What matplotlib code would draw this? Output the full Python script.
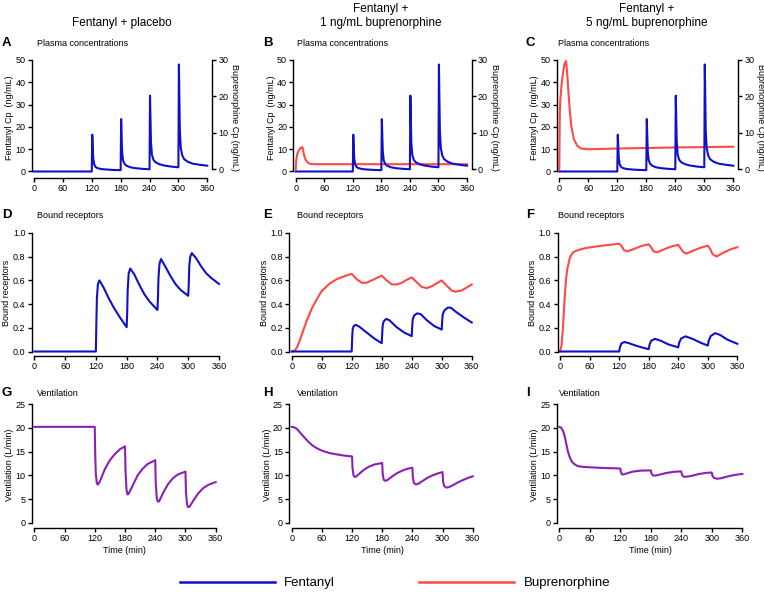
import matplotlib.pyplot as plt

plt.rcParams['font.family'] = ['Liberation Sans', 'DejaVu Sans']

BLUE = '#1010c8'
RED = '#ff4848'
PURPLE = '#8a20b4'

W, H = 764, 593

# ---- data ----
# fentanyl plasma concentration (ng/mL), same in A, B, C
t_fent_cp = [0, 120, 121, 123, 125, 128, 132, 140, 150, 165, 180,
             181, 183, 185, 188, 192, 200, 210, 225, 240,
             241, 243, 245, 248, 252, 260, 270, 285, 300,
             301, 303, 305, 308, 312, 320, 330, 345, 360]
fent_cp = [0, 0, 16.5, 6, 3.2, 2.0, 1.5, 1.1, 0.9, 0.7, 0.6,
           23.5, 9, 5, 3.5, 2.6, 1.9, 1.5, 1.2, 1.0,
           34, 13, 7.5, 5.3, 4.2, 3.3, 2.7, 2.2, 1.9,
           48, 18, 10.5, 7.2, 5.5, 4.3, 3.5, 3.0, 2.6]

# buprenorphine plasma concentration (ng/mL, right axis)
t_bup_cp_1 = [0, 1, 3, 5, 8, 11, 14, 16, 18, 21, 25, 30, 40, 60, 120, 240, 360]
bup_cp_1 = [0, 2.3, 4.0, 4.8, 5.5, 5.9, 6.1, 5.0, 3.6, 2.6, 1.9, 1.5, 1.4, 1.4, 1.4, 1.4, 1.4]

t_bup_cp_5 = [0, 1, 2, 5, 8, 11, 14, 16, 19, 22, 25, 30, 37, 45, 60, 120, 180, 240, 300, 360]
bup_cp_5 = [0, 15, 19, 23.5, 26.8, 29, 29.7, 27, 21, 15.7, 11.8, 8.3, 6.5, 5.7, 5.5, 5.7, 5.85, 6.0, 6.1, 6.2]

# bound receptors, fentanyl
t_rec_fent_0 = [0, 120, 121, 122, 124, 127, 135, 145, 155, 165, 180,
                181, 182, 184, 187, 195, 205, 215, 225, 240,
                241, 242, 244, 247, 255, 265, 275, 285, 300,
                301, 302, 304, 307, 315, 325, 335, 345, 360]
rec_fent_0 = [0, 0, 0.25, 0.45, 0.57, 0.60, 0.54, 0.45, 0.37, 0.30, 0.205,
              0.32, 0.52, 0.66, 0.70, 0.65, 0.56, 0.48, 0.42, 0.35,
              0.45, 0.62, 0.74, 0.78, 0.72, 0.64, 0.57, 0.52, 0.47,
              0.56, 0.72, 0.80, 0.83, 0.79, 0.72, 0.66, 0.62, 0.57]

t_rec_fent_1 = [0, 120, 121, 122, 124, 128, 135, 150, 165, 180,
                181, 182, 184, 189, 195, 210, 225, 240,
                241, 242, 245, 251, 258, 270, 285, 300,
                301, 302, 305, 312, 318, 330, 345, 360]
rec_fent_1 = [0, 0, 0.12, 0.19, 0.215, 0.225, 0.21, 0.16, 0.11, 0.07,
              0.15, 0.22, 0.255, 0.275, 0.265, 0.205, 0.16, 0.13,
              0.21, 0.27, 0.305, 0.322, 0.315, 0.265, 0.215, 0.185,
              0.26, 0.31, 0.345, 0.37, 0.37, 0.33, 0.285, 0.245]

t_rec_fent_5 = [0, 120, 122, 125, 131, 140, 155, 170, 180,
                182, 185, 193, 205, 220, 240,
                242, 246, 255, 270, 285, 300,
                302, 306, 315, 325, 340, 360]
rec_fent_5 = [0, 0, 0.04, 0.07, 0.08, 0.07, 0.048, 0.03, 0.02,
              0.06, 0.09, 0.107, 0.09, 0.06, 0.035,
              0.075, 0.11, 0.128, 0.105, 0.075, 0.05,
              0.09, 0.13, 0.155, 0.14, 0.10, 0.065]

# bound receptors, buprenorphine
t_rec_bup_1 = [0, 5, 10, 15, 20, 25, 30, 40, 50, 60, 75, 90, 105, 120,
               130, 140, 150, 160, 170, 180,
               190, 200, 210, 220, 230, 240,
               250, 260, 270, 280, 290, 300,
               310, 320, 327, 340, 350, 360]
rec_bup_1 = [0, 0.005, 0.03, 0.08, 0.14, 0.20, 0.26, 0.36, 0.44, 0.51, 0.57, 0.61, 0.635, 0.655,
             0.61, 0.58, 0.58, 0.60, 0.62, 0.64,
             0.60, 0.567, 0.565, 0.58, 0.605, 0.625,
             0.585, 0.545, 0.535, 0.55, 0.575, 0.60,
             0.555, 0.515, 0.505, 0.515, 0.54, 0.565]

t_rec_bup_5 = [0, 3, 6, 9, 12, 15, 20, 25, 30, 40, 55, 80, 100, 120,
               125, 130, 137, 150, 165, 180,
               185, 190, 197, 210, 225, 240,
               245, 250, 257, 270, 285, 300,
               305, 310, 318, 330, 345, 360]
rec_bup_5 = [0, 0.05, 0.2, 0.42, 0.6, 0.7, 0.79, 0.83, 0.845, 0.86, 0.875, 0.89, 0.9, 0.91,
             0.89, 0.855, 0.845, 0.865, 0.89, 0.905,
             0.88, 0.845, 0.837, 0.86, 0.885, 0.9,
             0.87, 0.84, 0.826, 0.85, 0.875, 0.893,
             0.865, 0.82, 0.802, 0.83, 0.86, 0.88]

# ventilation (L/min)
t_vent_0 = [0, 120, 121, 122, 124, 126, 130, 140, 150, 160, 170, 180,
            181, 183, 185, 187, 195, 205, 215, 225, 240,
            241, 243, 245, 248, 255, 265, 275, 285, 300,
            301, 303, 305, 308, 315, 325, 335, 345, 360]
vent_0 = [20.2, 20.2, 14, 10.5, 8.4, 8.05, 8.7, 11.3, 13.2, 14.5, 15.5, 16.1,
          11, 7, 6.0, 6.1, 7.8, 10, 11.4, 12.4, 13.2,
          8.5, 5.3, 4.5, 4.6, 6.2, 8.1, 9.4, 10.2, 10.8,
          6.5, 4, 3.35, 3.4, 4.6, 6.2, 7.3, 8.0, 8.6]

t_vent_1 = [0, 5, 10, 20, 30, 40, 50, 60, 75, 90, 105, 120,
            121, 123, 125, 128, 135, 145, 155, 165, 180,
            181, 183, 186, 190, 200, 210, 220, 230, 240,
            241, 243, 247, 251, 260, 270, 280, 290, 300,
            301, 303, 307, 312, 320, 330, 340, 350, 360]
vent_1 = [20.2, 20.1, 19.8, 18.6, 17.4, 16.4, 15.7, 15.2, 14.7, 14.4, 14.15, 14.0,
          11.5, 10, 9.7, 9.75, 10.4, 11.3, 11.9, 12.3, 12.6,
          10.3, 9.1, 8.85, 9.0, 9.8, 10.5, 11.0, 11.4, 11.6,
          9.6, 8.4, 8.1, 8.2, 8.8, 9.5, 10.0, 10.4, 10.7,
          8.8, 7.8, 7.45, 7.5, 7.9, 8.5, 9.0, 9.45, 9.8]

t_vent_5 = [0, 4, 8, 11, 14, 17, 20, 24, 28, 35, 45, 60, 90, 120,
            121, 123, 126, 132, 145, 160, 180,
            181, 184, 188, 195, 210, 225, 240,
            241, 244, 249, 260, 275, 290, 300,
            301, 304, 310, 318, 330, 345, 360]
vent_5 = [20.2, 20.0, 19.2, 18.0, 16.5, 15.0, 14.0, 13.0, 12.5, 12.0, 11.8, 11.7, 11.55, 11.45,
          10.8, 10.25, 10.2, 10.4, 10.8, 11.0, 11.05,
          10.5, 10.0, 9.95, 10.1, 10.5, 10.75, 10.85,
          10.2, 9.75, 9.7, 9.9, 10.3, 10.55, 10.6,
          10.0, 9.5, 9.3, 9.4, 9.75, 10.1, 10.3]

col_titles = ['Fentanyl + placebo', 'Fentanyl +\n1 ng/mL buprenorphine', 'Fentanyl +\n5 ng/mL buprenorphine']
row_titles = ['Plasma concentrations', 'Bound receptors', 'Ventilation']
letters = ['A', 'B', 'C', 'D', 'E', 'F', 'G', 'H', 'I']
xticks = [0, 60, 120, 180, 240, 300, 360]

# ---- layout (pixels of the reference) ----
x_pos = [[(34, 207.3), (295.7, 467), (559.3, 733.3)],
         [(34.3, 219), (291.7, 471.7), (560, 737.3)],
         [(34.3, 215.7), (291.7, 472.7), (559.3, 742.3)]]
# (top value, top px, zero px, bottom px)
y_pos = [(50, 60, 171.5, 175), (1.0, 233, 351.5, 353.5), (25, 404, 523, 525)]
letter_x = [2, 263, 526]
sub_x = [36.7, 297, 558.5]
row_text_y = [43, 215, 393]

fig = plt.figure(figsize=(W / 100, H / 100), dpi=100)


def style(ax, top, off, yticks):
    for s in ['top', 'right']:
        ax.spines[s].set_visible(False)
    ax.spines['left'].set_bounds(0, top)
    ax.spines['bottom'].set_bounds(0, 360)
    ax.spines['bottom'].set_position(('outward', off))
    for s in ['left', 'bottom']:
        ax.spines[s].set_linewidth(1.0)
    ax.set_xticks(xticks)
    ax.set_yticks(yticks)
    ax.tick_params(direction='out', length=3, width=1.0, labelsize=6.5, pad=1.5)


axes = []
for r in range(3):
    top, ytop, y0, ybot = y_pos[r]
    for c in range(3):
        x0, x360 = x_pos[r][c]
        rpad = 10 if r == 0 else 4
        s = (x360 - x0) / 360
        left = x0 - 5 * s
        right = x360 + rpad * s
        ax = fig.add_axes([left / W, 1 - ybot / H, (right - left) / W, (ybot - ytop) / H])
        ax.set_xlim(-5, 360 + rpad)
        scale = (y0 - ytop) / top
        ax.set_ylim(-(ybot - y0) / scale, top)
        axes.append(ax)

lw = 1.5
# row 1: plasma
for c in range(3):
    ax = axes[c]
    style(ax, 50, 2.2, [0, 10, 20, 30, 40, 50])
    ax.set_ylabel('Fentanyl Cp  (ng/mL)', fontsize=6.5, labelpad=1)
    ax2 = ax.twinx()
    # right axis: 30 at 60 px, 0 at 169.3 px
    sc = (169.3 - 60) / 30
    ax2.set_ylim(-(175 - 169.3) / sc, 30)
    for s in ['top', 'left', 'bottom']:
        ax2.spines[s].set_visible(False)
    ax2.spines['right'].set_bounds(0, 30)
    ax2.spines['right'].set_linewidth(1.0)
    ax2.set_yticks([0, 10, 20, 30])
    ax2.tick_params(direction='out', length=3, width=1.0, labelsize=6.5, pad=1.5)
    ax2.set_ylabel('Buprenorphine Cp (ng/mL)', fontsize=6.5, rotation=-90, labelpad=8)
    if c == 1:
        ax2.plot(t_bup_cp_1, bup_cp_1, color=RED, lw=lw)
    if c == 2:
        ax2.plot(t_bup_cp_5, bup_cp_5, color=RED, lw=lw)
    ax.plot(t_fent_cp, fent_cp, color=BLUE, lw=lw)
    ax.set_zorder(ax2.get_zorder() + 1)
    ax.patch.set_visible(False)

# row 2: bound receptors
rec_data = [(None, None, t_rec_fent_0, rec_fent_0),
            (t_rec_bup_1, rec_bup_1, t_rec_fent_1, rec_fent_1),
            (t_rec_bup_5, rec_bup_5, t_rec_fent_5, rec_fent_5)]
for c in range(3):
    ax = axes[3 + c]
    style(ax, 1.0, 1.5, [0, 0.2, 0.4, 0.6, 0.8, 1.0])
    ax.set_yticklabels(['0.0', '0.2', '0.4', '0.6', '0.8', '1.0'])
    ax.set_ylabel('Bound receptors', fontsize=6.5, labelpad=1)
    tb, vb, tf, vf = rec_data[c]
    if tb is not None:
        ax.plot(tb, vb, color=RED, lw=lw)
    ax.plot(tf, vf, color=BLUE, lw=lw)

# row 3: ventilation
vent_data = [(t_vent_0, vent_0), (t_vent_1, vent_1), (t_vent_5, vent_5)]
for c in range(3):
    ax = axes[6 + c]
    style(ax, 25, 1.8, [0, 5, 10, 15, 20, 25])
    ax.set_ylabel('Ventilation (L/min)', fontsize=6.5, labelpad=1)
    ax.set_xlabel('Time (min)', fontsize=6.5, labelpad=2)
    ax.plot(*vent_data[c], color=PURPLE, lw=lw)

# titles, letters
col_centers = [122, 381, 647]
for c in range(3):
    fig.text(col_centers[c] / W, 1 - 29 / H, col_titles[c], ha='center', va='bottom',
             fontsize=8.5, linespacing=1.25)
for r in range(3):
    for c in range(3):
        y = 1 - row_text_y[r] / H
        fig.text(letter_x[c] / W, y, letters[3 * r + c], ha='left', va='center',
                 fontsize=9.5, fontweight='bold')
        fig.text(sub_x[c] / W, y, row_titles[r], ha='left', va='center', fontsize=6.5)

# legend
h_f = plt.Line2D([], [], color=BLUE, lw=1.8)
h_b = plt.Line2D([], [], color=RED, lw=1.8)
fig.legend([h_f, h_b], ['Fentanyl', 'Buprenorphine'], loc='center',
           bbox_to_anchor=(395 / W, 1 - 583 / H), ncol=2, frameon=False,
           fontsize=9.5, handlelength=7.2, handletextpad=0.7, columnspacing=6.4,
           borderpad=0)

fig.savefig('out.png', dpi=100)
